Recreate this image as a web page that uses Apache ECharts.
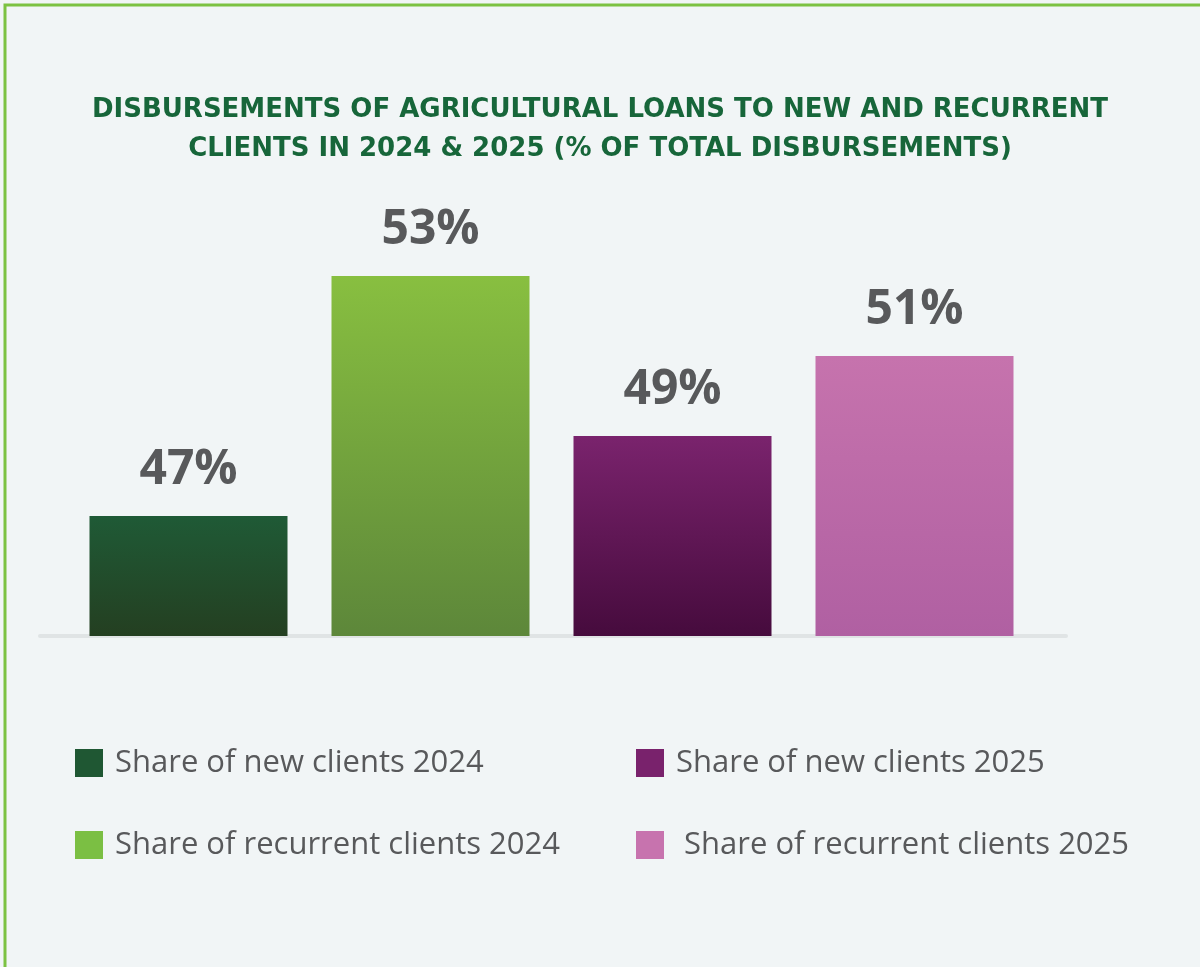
<!DOCTYPE html>
<html>
<head>
<meta charset="utf-8">
<title>Agricultural loan disbursements</title>
<script src="https://cdn.jsdelivr.net/npm/echarts@6/dist/echarts.min.js"></script>
<style>
  html, body { margin: 0; padding: 0; background: #f1f5f6; }
  #chart { width: 1200px; height: 967px; }
</style>
</head>
<body>
<div id="chart"></div>
<script>
// Categories (one bar each) and their shares of total disbursements, in %
const categories = [
  'Share of new clients 2024',
  'Share of recurrent clients 2024',
  'Share of new clients 2025',
  'Share of recurrent clients 2025'
];
const shares = [47, 53, 49, 51];

// Solid legend swatches and top/bottom gradient stops for each bar
const swatchColors = ['#1f5733', '#7bbf43', '#79226c', '#c773ae'];
const gradientTop = ['#1f5a36', '#88bf40', '#7a236d', '#c673ad'];
const gradientBottom = ['#243f21', '#5d873a', '#460b3d', '#b060a2'];

const titleLines = [
  'DISBURSEMENTS OF AGRICULTURAL LOANS TO NEW AND RECURRENT',
  'CLIENTS IN 2024 & 2025 (% OF TOTAL DISBURSEMENTS)'
];

const chart = echarts.init(document.getElementById('chart'), null, { renderer: 'canvas' });

const series = categories.map((name, i) => ({
  name: name,
  type: 'bar',
  xAxisIndex: 0,
  yAxisIndex: 0,
  barWidth: 198,
  barGap: '-100%',
  z: 3,
  data: categories.map((_, j) => (j === i ? shares[i] : null)),
  itemStyle: {
    color: new echarts.graphic.LinearGradient(0, 0, 0, 1, [
      { offset: 0, color: gradientTop[i] },
      { offset: 1, color: gradientBottom[i] }
    ])
  },
  label: {
    show: true,
    position: 'top',
    distance: 22,
    formatter: '{c}%',
    fontFamily: 'Open Sans',
    fontWeight: 'bold',
    fontSize: 48,
    color: '#58595b'
  }
}));

const legendText = {
  fontFamily: 'Open Sans',
  fontSize: 31,
  lineHeight: 28,
  color: '#58595b',
  padding: [16, 0, 0, 7]
};

const legendItem = (i) => ({
  name: categories[i],
  itemStyle: { color: swatchColors[i] }
});

chart.setOption({
  backgroundColor: '#f1f5f6',
  animation: false,
  title: {
    text: titleLines.join('\n'),
    left: 'center',
    top: 86,
    textStyle: {
      fontFamily: '"DejaVu Sans", sans-serif',
      fontWeight: 'bold',
      fontSize: 26,
      lineHeight: 39,
      color: '#17663a'
    }
  },
  legend: [
    {
      orient: 'vertical',
      left: 75,
      top: 741,
      itemWidth: 28,
      itemHeight: 28,
      itemGap: 38,
      icon: 'rect',
      padding: 0,
      selectedMode: false,
      textStyle: legendText,
      data: [legendItem(0), legendItem(1)]
    },
    {
      orient: 'vertical',
      left: 636,
      top: 741,
      itemWidth: 28,
      itemHeight: 28,
      itemGap: 38,
      icon: 'rect',
      padding: 0,
      selectedMode: false,
      textStyle: legendText,
      formatter: (name) => (name === categories[3] ? ' ' + name : name),
      data: [legendItem(2), legendItem(3)]
    }
  ],
  grid: [
    { left: 67.5, right: 164.5, top: 236, bottom: 331 },
    { left: 40, right: 134, top: 236, bottom: 331 }
  ],
  xAxis: [
    {
      type: 'category',
      gridIndex: 0,
      data: categories,
      axisLine: { show: false },
      axisTick: { show: false },
      axisLabel: { show: false }
    },
    {
      type: 'category',
      gridIndex: 1,
      data: [''],
      axisLine: { show: true, lineStyle: { color: '#e0e4e5', width: 4 } },
      axisTick: { show: false },
      axisLabel: { show: false }
    }
  ],
  yAxis: [
    {
      type: 'value',
      gridIndex: 0,
      min: 44,
      max: 54,
      show: false,
      splitLine: { show: false }
    },
    {
      type: 'value',
      gridIndex: 1,
      show: false,
      splitLine: { show: false }
    }
  ],
  graphic: [
    {
      type: 'polyline',
      shape: { points: [[5, 967], [5, 5], [1200, 5]] },
      style: { stroke: '#7cc242', lineWidth: 3, fill: null },
      silent: true
    }
  ],
  series: series
});
</script>
</body>
</html>
